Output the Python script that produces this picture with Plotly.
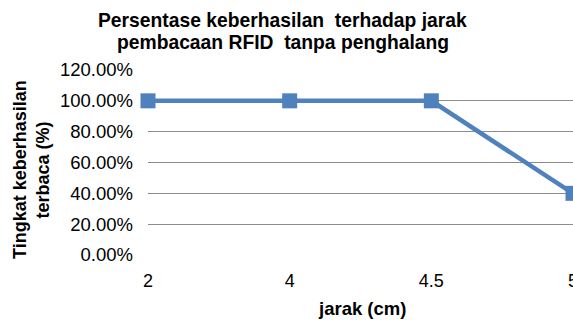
import plotly.graph_objects as go

# Reading distance (cm) and the share of successful RFID reads
jarak = ["2", "4", "4.5", "5"]
keberhasilan = [1.00, 1.00, 1.00, 0.40]
y_ticks = [0, 0.2, 0.4, 0.6, 0.8, 1.0, 1.2]

W, H = 573, 320
L, R, T, B = 148, 0, 70, 65
pw, ph = W - L - R, H - T - B

def px_x(x):
    return (x - L) / pw

def px_y(y):
    return (H - B - y) / ph

FONT = "Liberation Sans, Arial, sans-serif"
BLUE = "#4F81BD"

fig = go.Figure(
    go.Scatter(
        x=jarak,
        y=keberhasilan,
        mode="lines+markers",
        line=dict(color=BLUE, width=4.5),
        marker=dict(symbol="square", size=15, color=BLUE),
        cliponaxis=False,
        showlegend=False,
    )
)

fig.update_layout(
    width=W,
    height=H,
    margin=dict(l=L, r=R, t=T, b=B, autoexpand=False),
    paper_bgcolor="white",
    plot_bgcolor="white",
    font=dict(family=FONT, color="#000000"),
)

fig.update_xaxes(
    type="category",
    range=[0, 3],
    automargin=False,
    showgrid=False,
    showline=False,
    zeroline=False,
    ticks="",
    tickfont=dict(size=18, family=FONT, color="#000000"),
    ticklabelstandoff=13,
)

fig.update_yaxes(
    range=[0, 1.2],
    automargin=False,
    tickvals=y_ticks,
    tickformat=".2%",
    showgrid=True,
    gridcolor="#8c8c8c",
    gridwidth=1,
    showline=False,
    zeroline=False,
    ticks="",
    tickfont=dict(size=18.5, family=FONT, color="#000000"),
    ticklabelstandoff=14,
)

title_lines = [
    ("<b>Persentase keberhasilan \u00a0terhadap jarak</b>", 20.5),
    ("<b>pembacaan RFID \u00a0tanpa penghalang</b>", 42),
]
for text, yc in title_lines:
    fig.add_annotation(
        text=text, xref="paper", yref="paper",
        x=px_x(282.5), y=px_y(yc), xanchor="center", yanchor="middle",
        showarrow=False, font=dict(size=19.3, family=FONT, color="#000000"),
    )

ytitle_lines = [
    ("<b>Tingkat keberhasilan</b>", 20),
    ("<b>terbaca (%)</b>", 42.5),
]
for text, xc in ytitle_lines:
    fig.add_annotation(
        text=text, xref="paper", yref="paper", textangle=-90,
        x=px_x(xc), y=px_y(170), xanchor="center", yanchor="middle",
        showarrow=False, font=dict(size=18, family=FONT, color="#000000"),
    )

fig.add_annotation(
    text="<b>jarak (cm)</b>", xref="paper", yref="paper",
    x=px_x(362), y=px_y(308), xanchor="center", yanchor="middle",
    showarrow=False, font=dict(size=18.5, family=FONT, color="#000000"),
)

fig.write_html("out.html")
